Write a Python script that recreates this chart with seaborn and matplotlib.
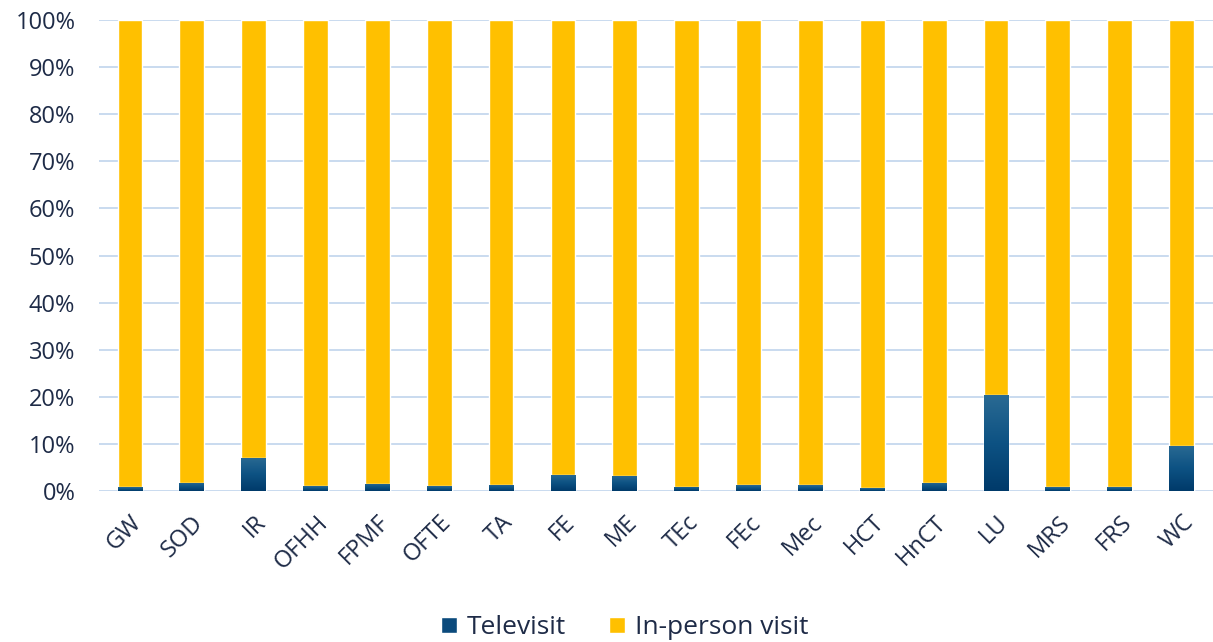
import numpy as np
import pandas as pd
import matplotlib
matplotlib.use("Agg")
import matplotlib.pyplot as plt
from matplotlib.colors import LinearSegmentedColormap
from matplotlib.patches import Patch
import seaborn as sns

categories = ["GW", "SOD", "IR", "OFHH", "FPMF", "OFTE", "TA", "FE", "ME", "TEc",
              "FEc", "Mec", "HCT", "HnCT", "LU", "MRS", "FRS", "WC"]
televisit = [0.8, 1.8, 7.1, 1.0, 1.6, 1.0, 1.4, 3.5, 3.2, 0.85,
             1.2, 1.2, 0.6, 1.8, 20.3, 0.8, 0.8, 9.6]
in_person = [100 - t for t in televisit]
yticks = list(range(0, 101, 10))

NAVY = "#0B4A7C"
GOLD = "#FFC000"
TEXT = "#1E2B47"
GRID = "#C9DAEF"

sns.set_theme(style="white")
plt.rcParams["font.family"] = ["Open Sans", "DejaVu Sans"]

df = pd.DataFrame({"cat": categories, "tele": televisit, "inperson": in_person})
df["total"] = df["tele"] + df["inperson"]

fig = plt.figure(figsize=(12.13, 6.42), dpi=100)
ax = fig.add_axes([0.0816, 0.235, 0.918, 0.734])

# full-height bars form the in-person segment, televisit is drawn over them
sns.barplot(data=df, x="cat", y="total", color=GOLD, saturation=1, width=0.4,
            ax=ax, zorder=2)
n_gold = len(ax.patches)
sns.barplot(data=df, x="cat", y="tele", color=NAVY, saturation=1, width=0.4,
            ax=ax, zorder=3)

ax.set_xlim(-0.5, len(categories) - 0.5)
ax.set_ylim(0, 100)

# vertical shading on the televisit segments
grad = LinearSegmentedColormap.from_list("navy", ["#003A6A", "#0D5283", "#2A6A93"])
g = np.linspace(0, 1, 256).reshape(-1, 1)
for p in ax.patches[n_gold:]:
    x0, y0 = p.get_x(), p.get_y()
    w, h = p.get_width(), p.get_height()
    im = ax.imshow(g, cmap=grad, origin="lower", aspect="auto",
                   extent=(x0, x0 + w, y0, y0 + h), zorder=3.5)
    im.set_clip_path(p)
    p.set_facecolor("none")
ax.set_xlim(-0.5, len(categories) - 0.5)
ax.set_ylim(0, 100)

ax.set_yticks(yticks)
ax.set_yticklabels([f"{v}%" for v in yticks])
for v in yticks:
    ax.axhline(v, color=GRID, lw=1.4, zorder=1)
for s in ax.spines.values():
    s.set_visible(False)

ax.set_xlabel("")
ax.set_ylabel("")
ax.tick_params(axis="both", length=0, labelsize=17, colors=TEXT)
ax.tick_params(axis="y", pad=17)
ax.set_xticks(range(len(categories)))
ax.set_xticklabels(categories, rotation=45, ha="right", rotation_mode="anchor")
ax.tick_params(axis="x", pad=14)

handles = [Patch(facecolor=NAVY, label="Televisit"),
           Patch(facecolor=GOLD, label="In-person visit")]
fig.legend(handles=handles, loc="center", bbox_to_anchor=(0.515, 0.022), ncol=2,
           frameon=False, fontsize=19, labelcolor=TEXT, handlelength=0.6,
           handleheight=0.6, handletextpad=0.4, columnspacing=1.6)

fig.savefig("out.png", dpi=100, facecolor="white")
